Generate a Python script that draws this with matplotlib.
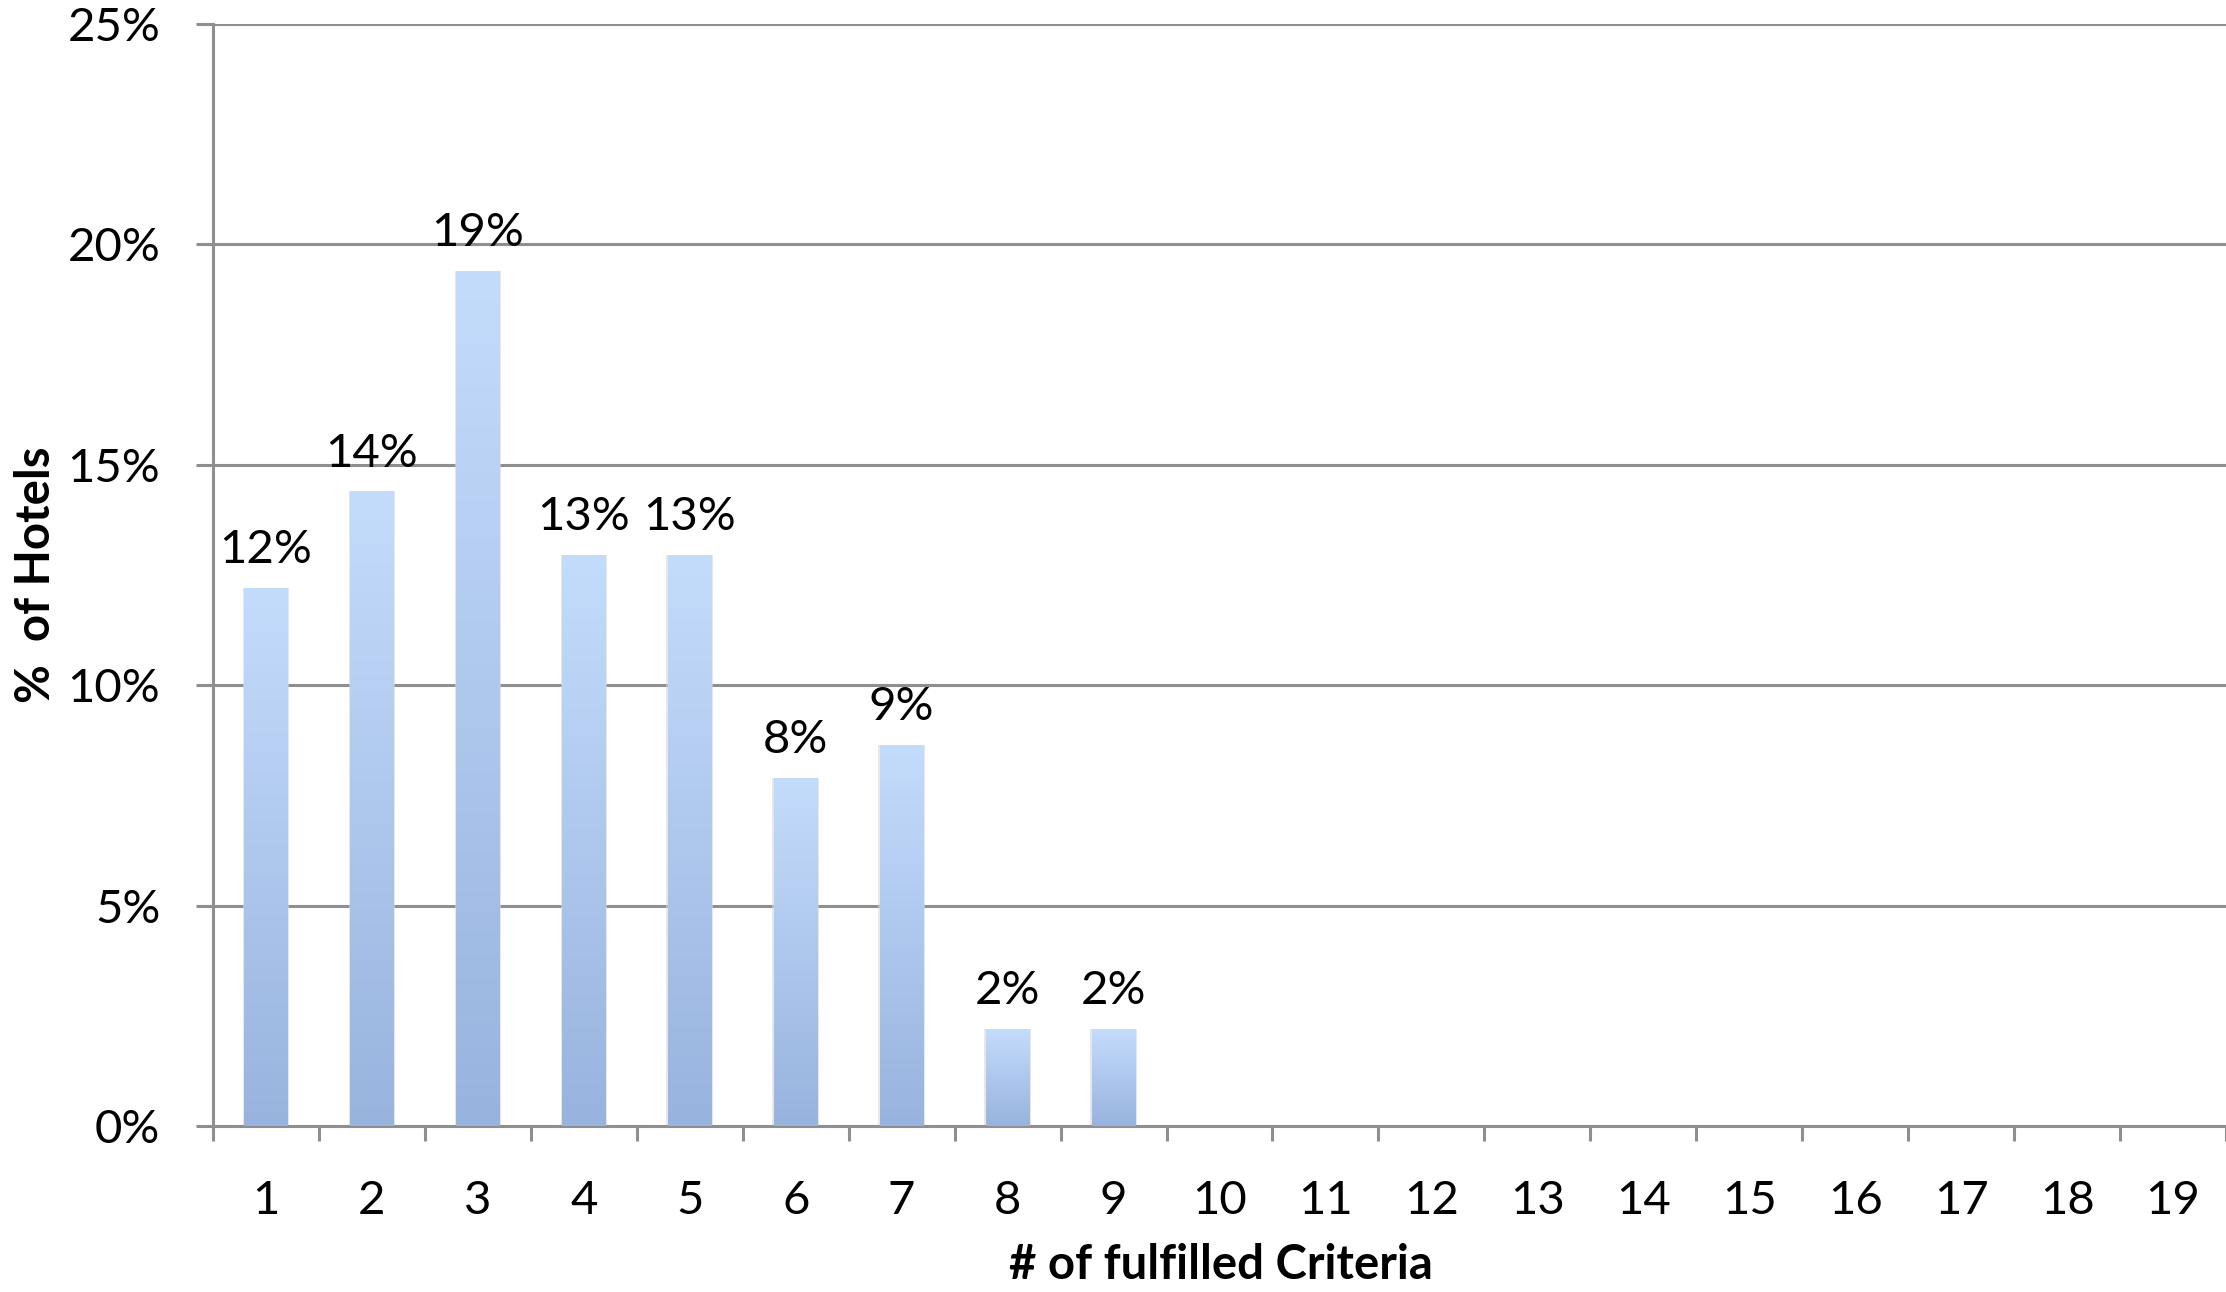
import numpy as np
import matplotlib
matplotlib.use("Agg")
import matplotlib.pyplot as plt
from matplotlib.colors import LinearSegmentedColormap

# data
criteria = list(range(1, 20))
share = [12.2, 14.4, 19.4, 12.95, 12.95, 7.9, 8.65, 2.2, 2.2,
         0, 0, 0, 0, 0, 0, 0, 0, 0, 0]
labels = ["12%", "14%", "19%", "13%", "13%", "8%", "9%", "2%", "2%",
          "", "", "", "", "", "", "", "", "", ""]
yticks = [0, 5, 10, 15, 20, 25]

plt.rcParams['font.family'] = ['Lato', 'DejaVu Sans']

fig = plt.figure(figsize=(22.26, 12.92), dpi=100)
ax = fig.add_axes([0.0957, 0.1285, 0.9043, 0.853])

grid_col = "#8f8f8f"
fs = 34
bars = ax.bar(criteria, share, width=0.41, color="none", edgecolor="none", zorder=3)

# vertical gradient inside every bar
cmap = LinearSegmentedColormap.from_list("barfill", ["#98b3de", "#c4dcfc"])
grad = np.linspace(0, 1, 256).reshape(-1, 1)
for b in bars:
    h = b.get_height()
    if h <= 0:
        continue
    x0 = b.get_x()
    w = b.get_width()
    # faint shadow
    ax.bar(x0 + w / 2, h, width=w + 0.03, color="#d8d8d8", alpha=0.6, zorder=2)
    im = ax.imshow(grad, cmap=cmap, origin="lower", aspect="auto",
                   extent=(x0, x0 + w, 0, h), zorder=3)
    im.set_clip_path(b)

for b, lab in zip(bars, labels):
    if lab:
        ax.annotate(lab, (b.get_x() + b.get_width() / 2, b.get_height()),
                    xytext=(0, 12), textcoords="offset points",
                    ha="center", va="bottom", fontsize=fs, color="black")

ax.set_xlim(0.5, 19.5)
ax.set_ylim(0, 25)

ax.set_yticks(yticks)
ax.set_yticklabels([f"{v}%" for v in yticks])
ax.yaxis.grid(True, color=grid_col, linewidth=2.2, zorder=0)
ax.set_axisbelow(True)

ax.set_xticks(criteria)
ax.set_xticklabels([str(c) for c in criteria])
ax.set_xticks(np.arange(0.5, 20, 1), minor=True)
ax.tick_params(axis="x", which="major", length=0, pad=39, labelsize=fs)
ax.tick_params(axis="x", which="minor", length=11, width=2.2, color=grid_col, direction="out")
ax.tick_params(axis="y", length=12, width=2.2, color=grid_col, pad=26, labelsize=fs)

for s in ["top", "right"]:
    ax.spines[s].set_visible(False)
for s in ["left", "bottom"]:
    ax.spines[s].set_color(grid_col)
    ax.spines[s].set_linewidth(2.2)

# axis titles placed in figure coordinates
fig.text(0.5485, 0.021, "# of fulfilled Criteria", fontsize=fs, fontweight="bold",
         ha="center", va="center")
fig.text(0.016, 0.555, "%  of Hotels", fontsize=fs, fontweight="bold",
         ha="center", va="center", rotation=90)

fig.savefig("out.png", dpi=100, facecolor="white")
